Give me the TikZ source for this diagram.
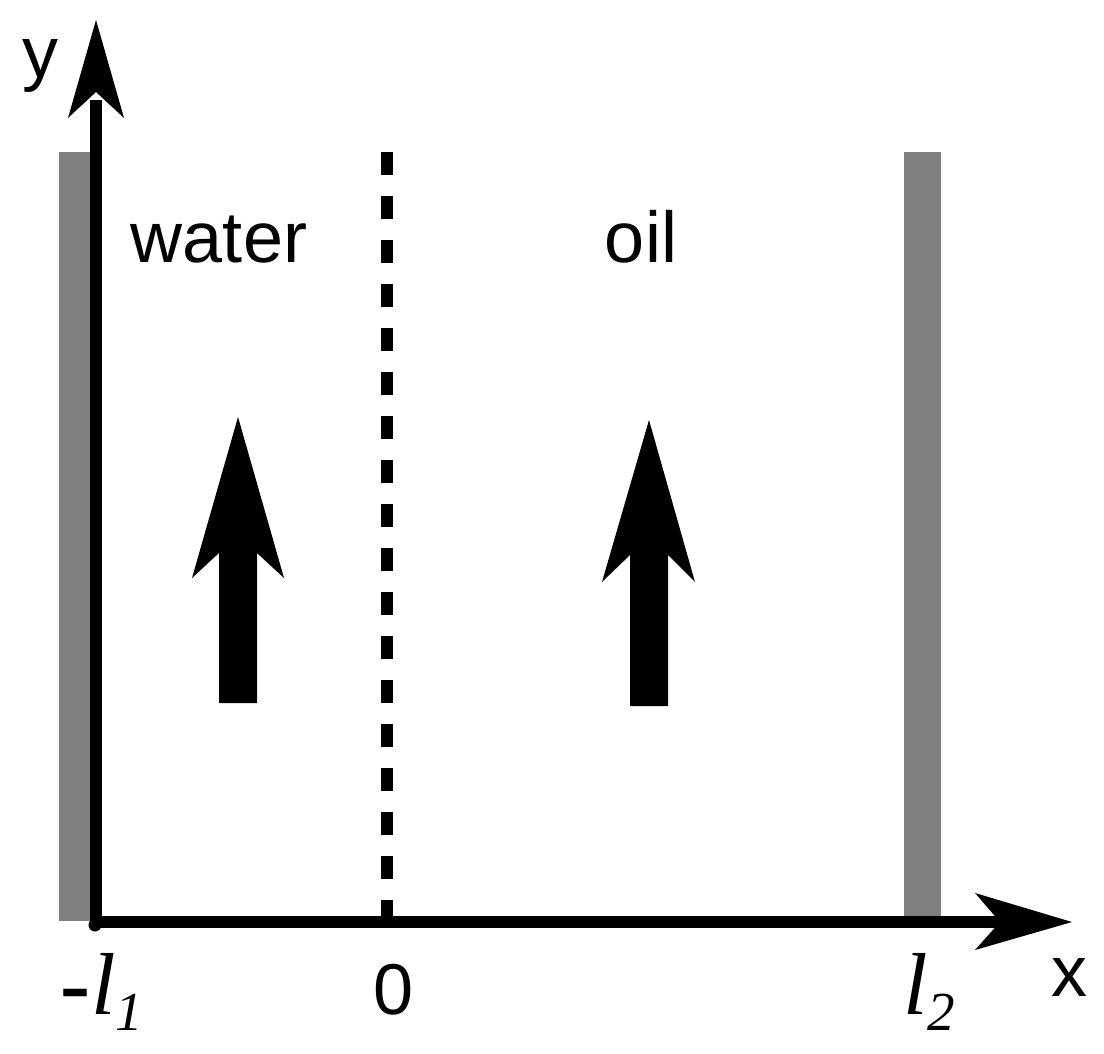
\documentclass[tikz,border=0pt]{standalone}
\usepackage{fontspec}
\setmainfont{Liberation Sans}
\newfontfamily\serifit{Liberation Serif}
\begin{document}
\begin{tikzpicture}[x=1pt,y=-1pt,
  wall/.style={fill=black!50, draw=none},
  axisline/.style={line width=11.5pt, black},
  headfill/.style={fill=black, draw=none},
  interface/.style={line width=12pt, black, dash pattern=on 23pt off 21pt},
  lbl/.style={inner sep=0pt, anchor=base, font=\fontsize{72}{80}\selectfont}
]
\useasboundingbox (0,0) rectangle (1104,1054);
% walls
\fill[wall] (59,152) rectangle (91,921);
\fill[wall] (904,152) rectangle (941,921);
% interface
\coordinate (itop) at (387,152);
\coordinate (ibot) at (387,922);
\draw[interface] (itop) -- (ibot);
% axes
\coordinate (O) at (96,922);
\coordinate (ytip) at (96,20);
\coordinate (xtip) at (1072,922);
\draw[axisline] (96,925) -- (96,100);
\draw[axisline] (91,922) -- (1000,922);
\fill[headfill] (ytip) -- (124,118) -- (96,92) -- (68,118) -- cycle;
\fill[headfill] (xtip) -- (975,893) -- (1000,922) -- (975,950) -- cycle;
\fill (95,925) circle (6.5);
% flow arrows
\fill[headfill] (238,417) -- (284,578) -- (257,553) -- (257,703) -- (219,703) -- (219,553) -- (192,578) -- cycle;
\fill[headfill] (649,420) -- (695,582) -- (668,555) -- (668,706) -- (630,706) -- (630,555) -- (602,582) -- cycle;
% labels
\node[lbl] (ylab) at (41,78) {y};
\node[lbl] (xlab) at (1069,996) {x};
\node[lbl] (water) at (219,262) {water};
\node[lbl] (oil) at (641,262) {oil};
\node[lbl] (zero) at (394,1014) {0};
\node[inner sep=0pt, anchor=base west] (lone) at (59,1014)
  {{\fontsize{96}{96}\selectfont\raisebox{-4pt}{-}}{\serifit\itshape\fontsize{88}{90}\selectfont l}\raisebox{-16pt}{\serifit\itshape\fontsize{55}{60}\selectfont 1}};
\node[inner sep=0pt, anchor=base west] (ltwo) at (903,1014)
  {{\serifit\itshape\fontsize{88}{90}\selectfont l}\raisebox{-16pt}{\serifit\itshape\fontsize{55}{60}\selectfont 2}};
\end{tikzpicture}
\end{document}
